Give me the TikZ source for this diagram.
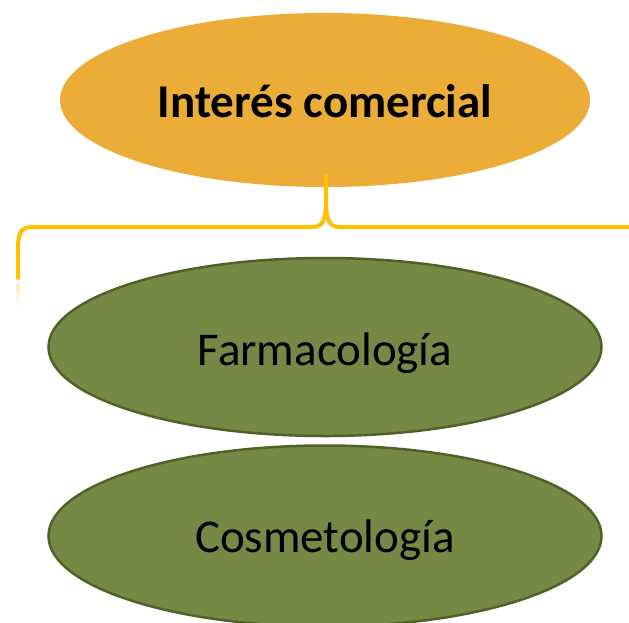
\documentclass[tikz,border=0pt]{standalone}
\usepackage{fontspec}
\setmainfont{Carlito}
\usetikzlibrary{shapes.geometric}
\definecolor{orangefill}{RGB}{235,173,55}
\definecolor{greenfill}{RGB}{118,136,70}
\definecolor{greenline}{RGB}{79,98,40}
\definecolor{braceyellow}{RGB}{255,192,0}
\tikzset{
  topell/.style={ellipse, fill=orangefill, draw=none, inner sep=0pt,
    minimum width=530pt, minimum height=174pt,
    font=\bfseries\fontsize{47}{56}\selectfont, text height=34pt, text depth=0pt},
  greenell/.style={ellipse, fill=greenfill, draw=greenline, line width=2.5pt, inner sep=0pt,
    minimum width=553pt, minimum height=178pt,
    font=\fontsize{47}{56}\selectfont, text depth=0pt},
  bracepath/.style={draw=braceyellow, line width=4pt, line cap=round, line join=round}
}
\begin{document}
\begin{tikzpicture}[x=1pt,y=-1pt]
\useasboundingbox[fill=white] (0,0) rectangle (629,622);
\node[topell] (top) at (325,100) {Interés comercial};
\coordinate (stem) at (326,176);
\coordinate (cusp) at (326,200);
\coordinate (leftend) at (18,278);
\coordinate (rightend) at (640,227);
\draw[bracepath] (stem) -- (cusp) .. controls (326,222) and (322,227) .. (312,227)
  -- (32,227) .. controls (22,227) and (18,232) .. (18,248) -- (leftend);
\draw[bracepath] (cusp) .. controls (326,222) and (330,227) .. (340,227) -- (rightend);
\draw[draw=braceyellow, line width=4pt, opacity=0.25] (18,284) -- (18,292);
\draw[draw=braceyellow, line width=4pt, opacity=0.15] (18,292) -- (18,300);
\draw[draw=braceyellow, line width=4pt, opacity=0.07] (18,300) -- (18,310);
\node[greenell, text height=36pt] (farma) at (325,347) {Farmacología};
\node[greenell, text height=32pt, minimum height=181pt] (cosme) at (325,536) {Cosmetología};
\end{tikzpicture}
\end{document}
